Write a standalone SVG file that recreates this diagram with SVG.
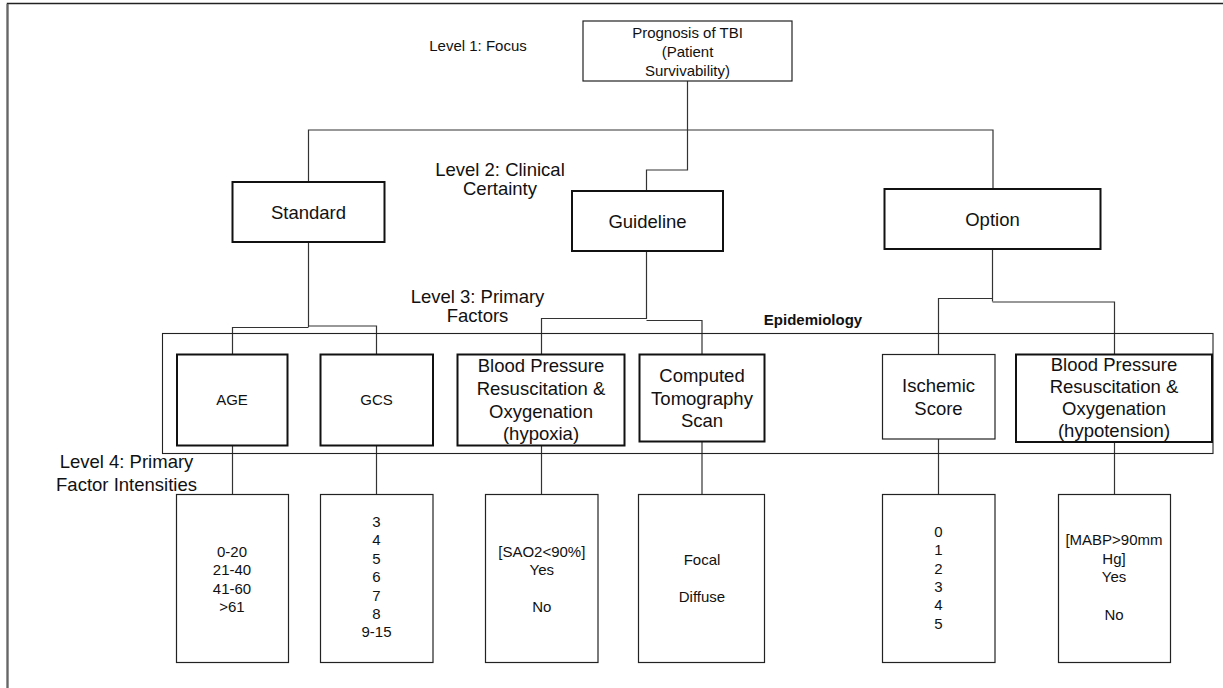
<svg xmlns="http://www.w3.org/2000/svg" width="1223" height="688" viewBox="0 0 1223 688">
  <style>
    text { font-family: "Liberation Sans", Arial, Helvetica, sans-serif; fill: #111; text-anchor: middle; }
    .s15 { font-size: 15px; }
    .s18 { font-size: 18.5px; }
    .bold { font-weight: bold; }
    .thin { fill: #fff; stroke: #222; stroke-width: 1.2; }
    .thick { fill: #fff; stroke: #111; stroke-width: 2; }
    .group { fill: none; stroke: #222; stroke-width: 1.1; }
    .wire { fill: none; stroke: #333; stroke-width: 1.2; }
  </style>

  <!-- page frame -->
  <path d="M7.5,688 V3.5 H1223" fill="none" stroke="#222" stroke-width="1.5"/>
  <line x1="7.5" y1="4" x2="7.5" y2="688" stroke="#666" stroke-width="2"/>

  <!-- level captions -->
  <g id="captions">
    <text class="s15" x="478" y="51">Level 1: Focus</text>
    <text class="s18" x="500" y="176">Level 2: Clinical</text>
    <text class="s18" x="500" y="195">Certainty</text>
    <text class="s18" x="477.5" y="303">Level 3: Primary</text>
    <text class="s18" x="477.5" y="322">Factors</text>
    <text class="s18" x="126.5" y="468">Level 4: Primary</text>
    <text class="s18" x="126.5" y="491">Factor Intensities</text>
  </g>

  <!-- connectors -->
  <g id="connectors">
    <path class="wire" d="M687.5,81 V170 H646.5 V191"/>
    <path class="wire" d="M308.5,182 V130 H993 V189"/>
    <path class="wire" d="M308.5,242 V327"/>
    <path class="wire" d="M232.5,354.5 V327.5 H308.5"/>
    <path class="wire" d="M308.5,326 H376.5 V354.5"/>
    <path class="wire" d="M646.5,251 V319"/>
    <path class="wire" d="M541.5,354.5 V318.5 H646.5"/>
    <path class="wire" d="M646.5,320.5 H702 V354.5"/>
    <path class="wire" d="M992.5,249 V301.5"/>
    <path class="wire" d="M938.5,354.5 V298.5 H992.5"/>
    <path class="wire" d="M992.5,302 H1114.5 V354.5"/>
    <path class="wire" d="M232.5,445.5 V494.5"/>
    <path class="wire" d="M376.5,445.5 V494.5"/>
    <path class="wire" d="M541.5,445.5 V494.5"/>
    <path class="wire" d="M702,441.5 V494.5"/>
    <path class="wire" d="M938.5,439 V494.5"/>
    <path class="wire" d="M1114.5,442 V494.5"/>
  </g>

  <!-- level 1 -->
  <g id="prognosis">
    <rect class="thin" x="583" y="21" width="209" height="60"/>
    <text class="s15" x="687.5" y="38">Prognosis of TBI</text>
    <text class="s15" x="687.5" y="57">(Patient</text>
    <text class="s15" x="687.5" y="75.5">Survivability)</text>
  </g>

  <!-- level 2 -->
  <g id="standard">
    <rect class="thick" x="232.5" y="182" width="152" height="60"/>
    <text class="s18" x="308.5" y="219">Standard</text>
  </g>
  <g id="guideline">
    <rect class="thick" x="572" y="191" width="151" height="60"/>
    <text class="s18" x="647.5" y="228">Guideline</text>
  </g>
  <g id="option">
    <rect class="thick" x="884.5" y="189" width="216" height="60"/>
    <text class="s18" x="992.5" y="226">Option</text>
  </g>

  <!-- level 3 grouping frame -->
  <g id="epidemiology">
    <rect class="group" x="162.5" y="333.5" width="1050.5" height="120"/>
    <text class="s15 bold" x="813" y="325">Epidemiology</text>
  </g>

  <!-- level 3 -->
  <g id="age">
    <rect class="thick" x="177" y="354.5" width="110.5" height="91"/>
    <text class="s15" x="232" y="405">AGE</text>
  </g>
  <g id="gcs">
    <rect class="thick" x="320.5" y="354.5" width="112.5" height="91"/>
    <text class="s15" x="376.5" y="405">GCS</text>
  </g>
  <g id="bp-hypoxia">
    <rect class="thick" x="457.5" y="354.5" width="167" height="91"/>
    <text class="s18" x="541" y="372">Blood Pressure</text>
    <text class="s18" x="541" y="394.5">Resuscitation &amp;</text>
    <text class="s18" x="541" y="417.5">Oxygenation</text>
    <text class="s18" x="541" y="440">(hypoxia)</text>
  </g>
  <g id="ct-scan">
    <rect class="thick" x="639.5" y="354.5" width="125" height="87"/>
    <text class="s18" x="702" y="382">Computed</text>
    <text class="s18" x="702" y="405">Tomography</text>
    <text class="s18" x="702" y="427">Scan</text>
  </g>
  <g id="ischemic">
    <rect class="thin" x="882.5" y="354.5" width="112.5" height="84.5"/>
    <text class="s18" x="938.5" y="392">Ischemic</text>
    <text class="s18" x="938.5" y="414.5">Score</text>
  </g>
  <g id="bp-hypotension">
    <rect class="thick" x="1016" y="354.5" width="196" height="87.5"/>
    <text class="s18" x="1114" y="371">Blood Pressure</text>
    <text class="s18" x="1114" y="393">Resuscitation &amp;</text>
    <text class="s18" x="1114" y="415">Oxygenation</text>
    <text class="s18" x="1114" y="437">(hypotension)</text>
  </g>

  <!-- level 4 -->
  <g id="age-values">
    <rect class="thin" x="176.5" y="494.5" width="112" height="168"/>
    <text class="s15" x="232" y="557">0-20</text>
    <text class="s15" x="232" y="575.3">21-40</text>
    <text class="s15" x="232" y="593.6">41-60</text>
    <text class="s15" x="232" y="612">&gt;61</text>
  </g>
  <g id="gcs-values">
    <rect class="thin" x="320.5" y="494.5" width="112.5" height="168"/>
    <text class="s15" x="376.5" y="527">3</text>
    <text class="s15" x="376.5" y="545.4">4</text>
    <text class="s15" x="376.5" y="563.8">5</text>
    <text class="s15" x="376.5" y="582.2">6</text>
    <text class="s15" x="376.5" y="600.6">7</text>
    <text class="s15" x="376.5" y="619">8</text>
    <text class="s15" x="376.5" y="637.4">9-15</text>
  </g>
  <g id="sao2-values">
    <rect class="thin" x="485.5" y="494.5" width="112.5" height="168"/>
    <text class="s15" x="541.8" y="557">[SAO2&lt;90%]</text>
    <text class="s15" x="541.8" y="575">Yes</text>
    <text class="s15" x="541.8" y="612">No</text>
  </g>
  <g id="ct-values">
    <rect class="thin" x="638.5" y="494.5" width="126" height="168"/>
    <text class="s15" x="702" y="565">Focal</text>
    <text class="s15" x="702" y="602">Diffuse</text>
  </g>
  <g id="ischemic-values">
    <rect class="thin" x="882.5" y="494.5" width="112.5" height="168"/>
    <text class="s15" x="938.5" y="537">0</text>
    <text class="s15" x="938.5" y="555.3">1</text>
    <text class="s15" x="938.5" y="573.6">2</text>
    <text class="s15" x="938.5" y="592">3</text>
    <text class="s15" x="938.5" y="610.3">4</text>
    <text class="s15" x="938.5" y="628.6">5</text>
  </g>
  <g id="mabp-values">
    <rect class="thin" x="1058.5" y="494.5" width="112" height="168"/>
    <text class="s15" x="1114" y="545">[MABP&gt;90mm</text>
    <text class="s15" x="1114" y="563.5">Hg]</text>
    <text class="s15" x="1114" y="582">Yes</text>
    <text class="s15" x="1114" y="620">No</text>
  </g>
</svg>
